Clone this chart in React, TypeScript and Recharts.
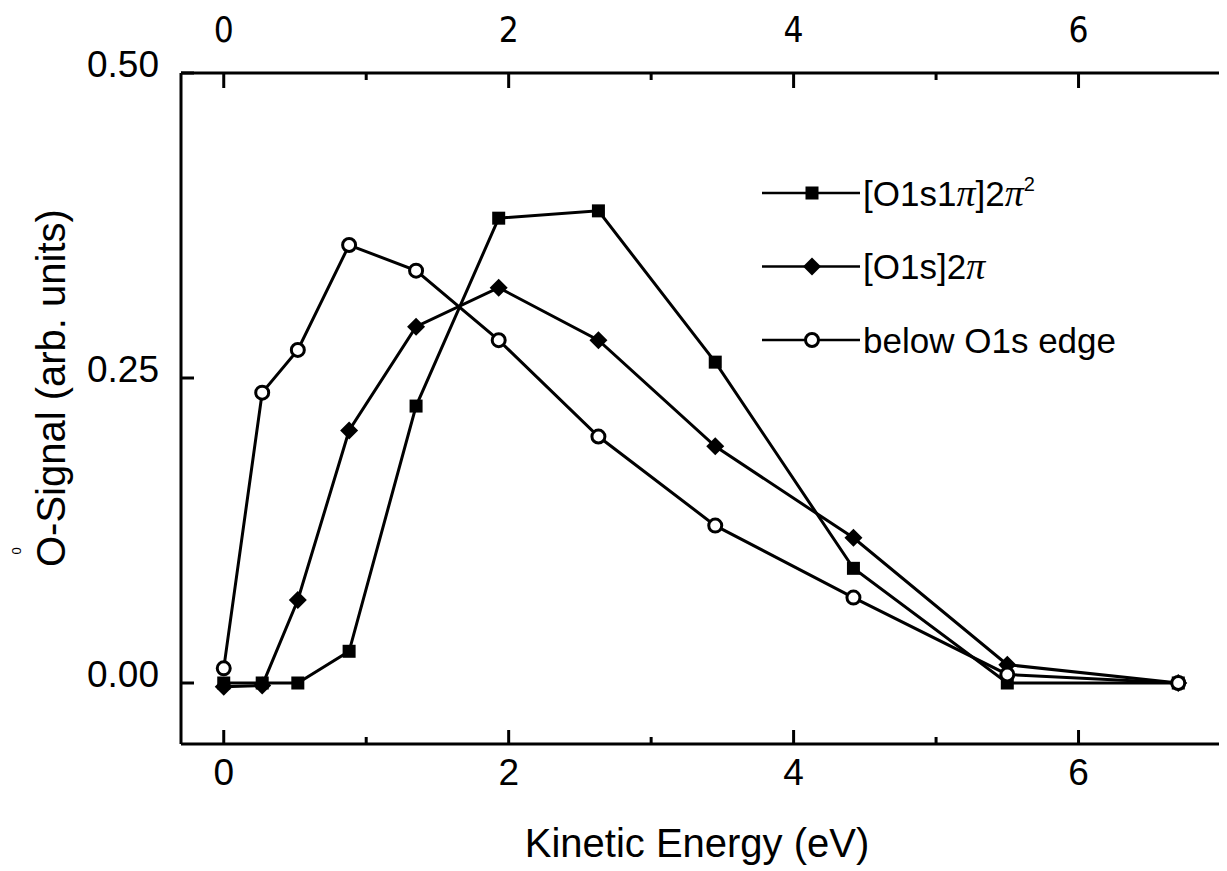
import { LineChart, Line, XAxis, YAxis, Legend } from "recharts";

// kinetic energy (eV) shared by all three series
const energy = [0, 0.27, 0.52, 0.88, 1.35, 1.93, 2.63, 3.45, 4.42, 5.5, 6.7];
const o1s1pi = [0, 0, 0, 0.026, 0.227, 0.381, 0.387, 0.263, 0.094, 0, 0];
const o1s = [-0.003, -0.002, 0.068, 0.207, 0.292, 0.324, 0.281, 0.194, 0.119, 0.015, 0];
const belowEdge = [0.012, 0.238, 0.273, 0.359, 0.338, 0.281, 0.202, 0.129, 0.07, 0.007, 0];

const xTicks = [0, 1, 2, 3, 4, 5, 6];
const yTicks = [0, 0.25, 0.5];

const rows = energy.map((x, i) => ({
  x,
  sq: o1s1pi[i],
  di: o1s[i],
  ci: belowEdge[i],
}));

const FONT = "'Liberation Sans', Arial, sans-serif";
const NARROW = "'Liberation Sans Narrow', 'DejaVu Sans Condensed', 'Liberation Sans', sans-serif";

function marker(kind: string, cx: number, cy: number) {
  if (kind === "sq") return <rect x={cx - 6.5} y={cy - 6.5} width={13} height={13} fill="#000" />;
  if (kind === "di")
    return (
      <polygon
        points={`${cx},${cy - 9} ${cx + 9},${cy} ${cx},${cy + 9} ${cx - 9},${cy}`}
        fill="#000"
      />
    );
  return <circle cx={cx} cy={cy} r={6.5} fill="#fff" stroke="#000" strokeWidth={3} />;
}

const dot = (kind: string) => (p: any) => {
  if (p.cx == null || p.cy == null) return <g key={p.key} />;
  return <g key={p.key}>{marker(kind, p.cx, p.cy)}</g>;
};

function richLabel(s: string) {
  return Array.from(s).map((ch, i) => {
    if (ch === "π")
      return (
        <tspan key={i} fontFamily="'Liberation Serif', serif" fontStyle="italic" fontSize={38}>
          π
        </tspan>
      );
    if (ch === "²")
      return (
        <tspan key={i} dy={-15} fontSize={20}>
          2
        </tspan>
      );
    return <tspan key={i}>{ch}</tspan>;
  });
}

function LegendBox({ payload }: any) {
  return (
    <svg width={380} height={230} style={{ display: "block" }}>
      {(payload ?? []).map((entry: any, i: number) => {
        const y = 35 + i * 73.5;
        return (
          <g key={entry.dataKey}>
            <line x1={2} x2={100} y1={y} y2={y} stroke="#000" strokeWidth={2.5} />
            {marker(entry.dataKey, 52, y)}
            <text x={103} y={y + 12.5} fontSize={35} fontFamily={FONT} fill="#000">
              {richLabel(entry.value)}
            </text>
          </g>
        );
      })}
    </svg>
  );
}

function BottomTick({ x, y, payload }: any) {
  const major = payload.value % 2 === 0;
  return (
    <g>
      <line x1={x} x2={x} y1={y} y2={y - (major ? 14 : 7)} stroke="#000" strokeWidth={3} />
      {major && (
        <text x={x} y={y + 41} textAnchor="middle" fontSize={37} fontFamily={FONT} fill="#000">
          {payload.value}
        </text>
      )}
    </g>
  );
}

function TopTick({ x, y, payload }: any) {
  const major = payload.value % 2 === 0;
  return (
    <g>
      <line x1={x} x2={x} y1={y} y2={y + (major ? 15 : 7)} stroke="#000" strokeWidth={3} />
      {major && (
        <text x={x} y={y - 31} textAnchor="middle" fontSize={35} fontFamily={NARROW} fill="#000">
          {payload.value}
        </text>
      )}
    </g>
  );
}

function LeftTick({ x, y, payload }: any) {
  return (
    <g>
      <line x1={x} x2={x + 13} y1={y} y2={y} stroke="#000" strokeWidth={3} />
      <text x={x - 22} y={y + 4} textAnchor="end" fontSize={37} fontFamily={FONT} fill="#000">
        {Number(payload.value).toFixed(2)}
      </text>
    </g>
  );
}

const XTitle = (props: any) => {
  const vb = props.viewBox;
  return (
    <text x={vb.x + vb.width / 2 - 4} y={vb.y + 113} textAnchor="middle" fontSize={40} fontFamily={FONT} fill="#000">
      Kinetic Energy (eV)
    </text>
  );
};

const YTitle = () => (
  <g>
    <text transform="translate(57,559) rotate(-90)" fontSize={40} fontFamily={FONT} fill="#000">
      O-Signal (arb. units)
    </text>
    <text transform="translate(13,543) rotate(-90)" textAnchor="middle" fontSize={13} fontFamily={FONT} fill="#000">
      0
    </text>
  </g>
);

const axisLine = { stroke: "#000", strokeWidth: 3 };

export default function App() {
  return (
    <div style={{ fontFamily: FONT, background: "#fff" }}>
      <LineChart width={1219} height={863} data={rows} margin={{ top: 0, right: 0, bottom: 0, left: 0 }}>
        <XAxis
          xAxisId="bottom"
          dataKey="x"
          type="number"
          orientation="bottom"
          domain={[-0.3, 7.0]}
          allowDataOverflow
          ticks={xTicks}
          height={127}
          tickSize={0}
          tickMargin={0}
          tickLine={false}
          axisLine={axisLine}
          tick={BottomTick}
          interval={0}
          label={XTitle}
        />
        <XAxis
          xAxisId="top"
          dataKey="x"
          type="number"
          orientation="top"
          domain={[-0.3, 7.0]}
          allowDataOverflow
          ticks={xTicks}
          height={65}
          tickSize={0}
          tickMargin={0}
          tickLine={false}
          axisLine={axisLine}
          tick={TopTick}
          interval={0}
        />
        <YAxis
          yAxisId="left"
          type="number"
          domain={[-0.05, 0.5]}
          allowDataOverflow
          ticks={yTicks}
          width={173}
          tickSize={0}
          tickMargin={0}
          tickLine={false}
          axisLine={axisLine}
          tick={LeftTick}
          interval={0}
          label={YTitle}
        />
        <YAxis
          yAxisId="right"
          orientation="right"
          type="number"
          domain={[-0.05, 0.5]}
          allowDataOverflow
          width={6}
          tick={false}
          tickLine={false}
          axisLine={axisLine}
        />
        <Legend
          layout="horizontal"
          verticalAlign="middle"
          align="center"
          content={LegendBox}
          wrapperStyle={{ left: 752, top: 150, width: 380, height: 230 }}
        />
        <Line
          xAxisId="bottom"
          yAxisId="left"
          dataKey="sq"
          name="[O1s1π]2π²"
          type="linear"
          stroke="#000"
          strokeWidth={3}
          dot={dot("sq")}
          activeDot={false}
          isAnimationActive={false}
        />
        <Line
          xAxisId="bottom"
          yAxisId="left"
          dataKey="di"
          name="[O1s]2π"
          type="linear"
          stroke="#000"
          strokeWidth={3}
          dot={dot("di")}
          activeDot={false}
          isAnimationActive={false}
        />
        <Line
          xAxisId="bottom"
          yAxisId="left"
          dataKey="ci"
          name="below O1s edge"
          type="linear"
          stroke="#000"
          strokeWidth={3}
          dot={dot("ci")}
          activeDot={false}
          isAnimationActive={false}
        />
      </LineChart>
    </div>
  );
}
